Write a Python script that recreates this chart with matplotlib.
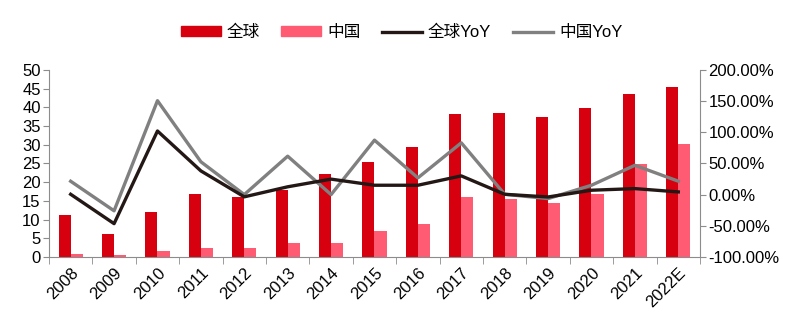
import numpy as np
import matplotlib.pyplot as plt
from matplotlib.patches import Patch
from matplotlib.lines import Line2D
from matplotlib.ticker import FuncFormatter

plt.rcParams['font.family'] = ['Liberation Sans', 'Noto Sans CJK SC', 'DejaVu Sans']

years = ['2008', '2009', '2010', '2011', '2012', '2013', '2014', '2015',
         '2016', '2017', '2018', '2019', '2020', '2021', '2022E']
global_vals = [11.3, 6.1, 12.1, 16.7, 15.9, 17.9, 22.1, 25.4,
               29.5, 38.2, 38.4, 37.3, 39.8, 43.6, 45.4]
china_vals = [0.8, 0.6, 1.5, 2.3, 2.3, 3.7, 3.7, 6.9,
              8.8, 15.9, 15.6, 14.5, 16.8, 24.9, 30.1]
global_yoy = [0.5, -46.6, 102, 38, -3.6, 12.5, 24.8, 15,
              15, 30, 0.5, -3.8, 7, 9.6, 4.3]
china_yoy = [21.4, -26, 150.6, 52.6, 0, 61.6, 0, 87.3,
             26.8, 83, 0.5, -6.4, 15, 47, 21.5]

c_global = '#D7000F'
c_china = '#FF5C74'
c_gyoy = '#231815'
c_cyoy = '#808080'
spine_c = '#8C8C8C'

fig = plt.figure(figsize=(7.95, 3.22), dpi=100)
ax = fig.add_axes([0.0616, 0.202, 0.8189, 0.581])
ax2 = ax.twinx()

x = np.arange(len(years))
w = 0.28
ax.bar(x - w / 2, global_vals, w, color=c_global)
ax.bar(x + w / 2, china_vals, w, color=c_china)

ax2.plot(x, china_yoy, color=c_cyoy, lw=2.4)
ax2.plot(x, global_yoy, color=c_gyoy, lw=2.4)

ax.set_xlim(-0.5, len(years) - 0.5)
ax.set_ylim(0, 50)
ax.set_yticks(np.arange(0, 51, 5))
ax2.set_ylim(-100, 200)
ax2.set_yticks(np.arange(-100, 201, 50))
ax2.yaxis.set_major_formatter(FuncFormatter(lambda v, p: f'{v:.2f}%'))

ax.set_xticks(x)
ax.set_xticklabels(years, rotation=45, ha='right', rotation_mode='anchor')
ax.set_xticks(np.arange(-0.5, len(years), 1), minor=True)
ax.tick_params(axis='x', which='major', length=0, pad=6, labelsize=12)
ax.tick_params(axis='x', which='minor', length=5, color=spine_c, direction='out')
ax.tick_params(axis='y', length=4, color=spine_c, labelsize=12, pad=2)
ax2.tick_params(axis='y', length=4, color=spine_c, labelsize=12, pad=2)

for a in (ax, ax2):
    a.spines['top'].set_visible(False)
    for s in ('left', 'right', 'bottom'):
        a.spines[s].set_color(spine_c)
ax.spines['right'].set_visible(False)
ax2.spines['left'].set_visible(False)
ax2.spines['bottom'].set_visible(False)

handles = [Patch(color=c_global), Patch(color=c_china),
           Line2D([], [], color=c_gyoy, lw=2.4), Line2D([], [], color=c_cyoy, lw=2.4)]
labels = ['全球', '中国', '全球YoY', '中国YoY']
fig.legend(handles, labels, loc='center', bbox_to_anchor=(0.505, 0.9), ncol=4,
           frameon=False, fontsize=12, handlelength=2.4, handleheight=0.5,
           columnspacing=1.3, handletextpad=0.35)

fig.savefig('out.png', dpi=100)
